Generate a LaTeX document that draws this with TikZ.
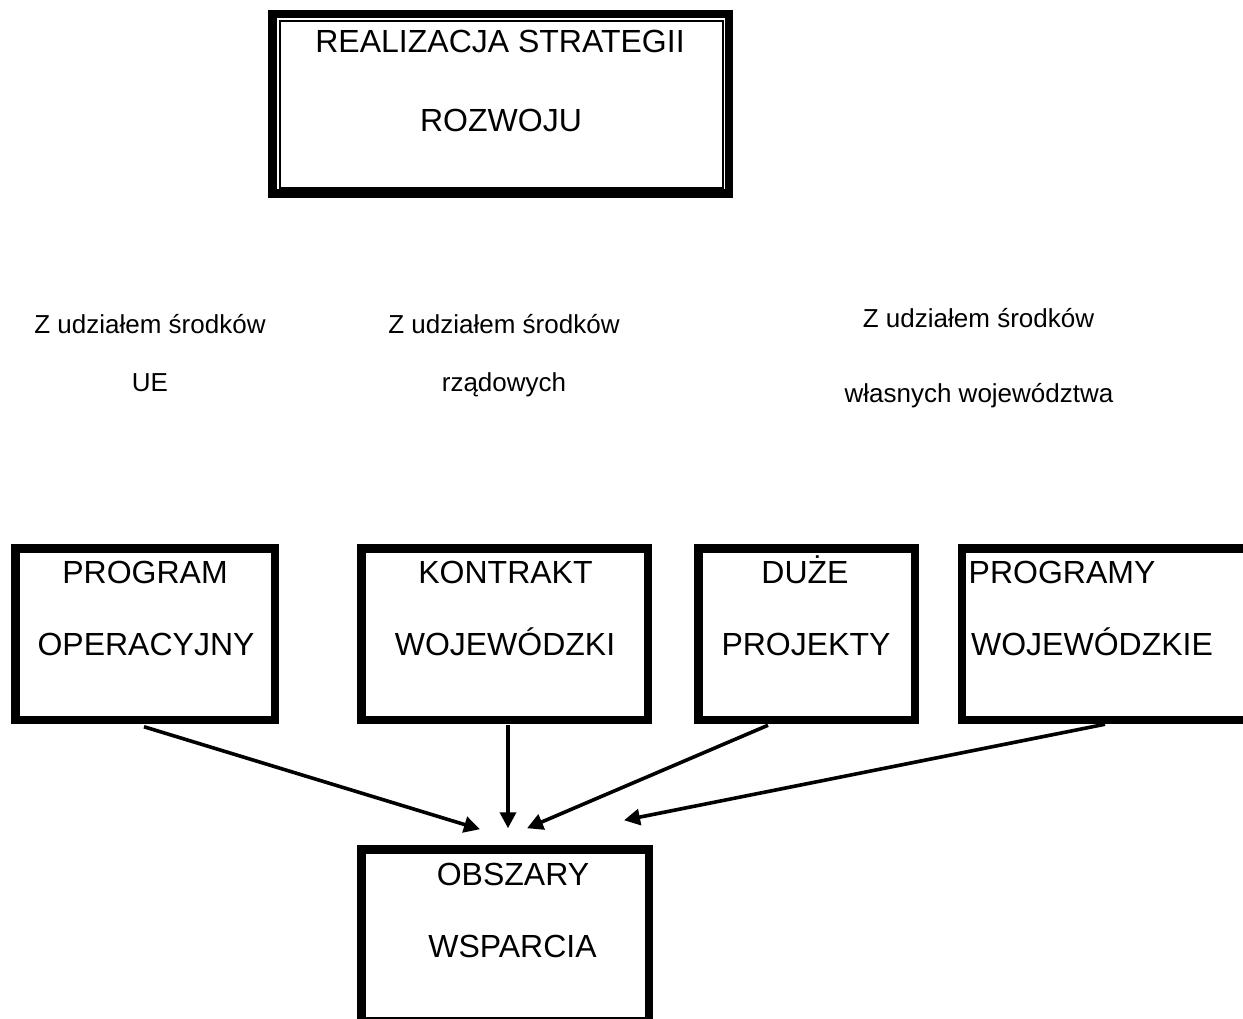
\documentclass[tikz,border=0pt]{standalone}
\usepackage{fontspec}
\setmainfont{Liberation Sans}
\usetikzlibrary{arrows.meta,calc}

\tikzset{
  frame/.style={draw=black, line width=8.5pt, rectangle, inner sep=0pt, outer sep=0pt},
  bigtxt/.style={inner sep=0pt, anchor=base, font=\fontsize{32}{38}\selectfont},
  bigtxtl/.style={inner sep=0pt, anchor=base west, font=\fontsize{32}{38}\selectfont},
  midtxt/.style={inner sep=0pt, anchor=base, font=\fontsize{26}{31}\selectfont},
  flow/.style={line width=3.6pt, -{Triangle[length=16pt,width=16pt]}}
}

\begin{document}
\begin{tikzpicture}[x=1pt,y=-1pt]
\useasboundingbox (0,0) rectangle (1243,1019);
\fill[white] (0,0) rectangle (1243,1019);
\clip (0,0) rectangle (1243,1019);

% top frame with thin inner rule
\node[frame, minimum width=456.5pt, minimum height=179.5pt] (top) at (500.5,104) {};
\draw[line width=1.3pt] ([shift={(7.75,6.75)}]top.north west) rectangle ([shift={(-5.75,-5.75)}]top.south east);
\node[bigtxt] (t1a) at (500,53) {REALIZACJA STRATEGII};
\node[bigtxt] (t1b) at (501,132) {ROZWOJU};

% funding sources
\node[midtxt] (f1a) at (150,334) {Z udziałem środków};
\node[midtxt] (f1b) at (150,391) {UE};
\node[midtxt] (f2a) at (504,334) {Z udziałem środków};
\node[midtxt] (f2b) at (504,391) {rządowych};
\node[midtxt] (f3a) at (978.5,327) {Z udziałem środków};
\node[midtxt] (f3b) at (979,402) {własnych województwa};

% instrument boxes
\node[frame, minimum width=259.5pt, minimum height=171.5pt] (b1) at (145,634) {};
\node[frame, minimum width=286.5pt, minimum height=171.5pt] (b2) at (504.5,634) {};
\node[frame, minimum width=216.5pt, minimum height=171.5pt] (b3) at (806.5,634) {};
\node[frame, minimum width=307.75pt, minimum height=171.5pt] (b4) at (1116,634) {};

\node[bigtxt] (b1a) at (145,583) {PROGRAM};
\node[bigtxt] (b1b) at (146,655) {OPERACYJNY};
\node[bigtxt] (b2a) at (505.5,583) {KONTRAKT};
\node[bigtxt] (b2b) at (505,655) {WOJEWÓDZKI};
\node[bigtxt] (b3a) at (805,583) {DUŻE};
\node[bigtxt] (b3b) at (806,655) {PROJEKTY};
\node[bigtxt] (b4a) at (1062,583) {PROGRAMY};
\node[bigtxt] (b4b) at (1092,655) {WOJEWÓDZKIE};

% target box
\node[frame, minimum width=287.5pt, minimum height=172pt] (obs) at (505,935.25) {};
\node[bigtxt] (oa) at (513,885) {OBSZARY};
\node[bigtxt] (ob) at (512.5,957) {WSPARCIA};

% arrow ends
\coordinate (s1) at ($(b1.south)+(-1,7)$);
\coordinate (s2) at ($(b2.south)+(3.5,5.5)$);
\coordinate (s3) at ($(b3.south)+(-38.5,5.5)$);
\coordinate (s4) at ($(b4.south)+(-11,4.5)$);
\coordinate (e1) at ($(obs.north)+(-25,-20)$);
\coordinate (e2) at ($(obs.north)+(3,-21)$);
\coordinate (e3) at ($(obs.north)+(22,-21)$);
\coordinate (e4) at ($(obs.north)+(119,-29)$);

\draw[flow] (s1) -- (e1);
\draw[flow] (s2) -- (e2);
\draw[flow] (s3) -- (e3);
\draw[flow] (s4) -- (e4);
\end{tikzpicture}
\end{document}
